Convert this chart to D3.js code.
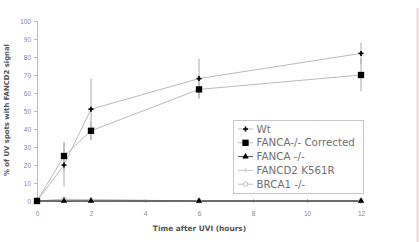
<!DOCTYPE html>
<meta charset="utf-8">
<body style="margin:0;background:#fff">
<script src="https://d3js.org/d3.v7.min.js"></script>
<div id="chart"></div>
<script>

// time points (hours after UVI)
var hours = [0, 1, 2, 6, 12];

var wt = [0, 20, 51, 68, 82];
var wtErr = [0, 12, 17, 11, 6];
var corrected = [0, 25, 39, 62, 70];
var correctedErr = [0, 8, 5, 5, 9];
var fanca = [0, 0, 0, 0, 0];
var fancd2 = [0, 0.8, 0.8, 0, 0];
var brca1 = [0, 1, 0.6, 0, 0];

var xTicks = [0, 2, 4, 6, 8, 10, 12];
var yTicks = [0, 10, 20, 30, 40, 50, 60, 70, 80, 90, 100];

var seriesNames = ["Wt", "FANCA-/- Corrected", "FANCA -/-", "FANCD2 K561R", "BRCA1 -/-"];

var width = 420, height = 242;
var svg = d3.select("#chart").append("svg")
    .attr("width", width)
    .attr("height", height)
    .style("font-family", "DejaVu Sans, sans-serif");

var x = d3.scaleLinear().domain([0, 12]).range([37, 361]);
var y = d3.scaleLinear().domain([0, 100]).range([201, 21]);

// pink rule at right edge
svg.append("line")
    .attr("x1", 417.5).attr("x2", 417.5)
    .attr("y1", 8).attr("y2", height)
    .style("stroke", "#f2d2d6").style("stroke-width", 2);

// Y axis
var yAxis = svg.append("g")
    .attr("transform", "translate(" + x(0) + ",0)")
    .call(d3.axisLeft(y).tickValues(yTicks).tickSize(3).tickPadding(3));
yAxis.select(".domain").style("stroke", "#bdbdbd");
yAxis.selectAll(".tick line").style("stroke", "#bdbdbd");
yAxis.selectAll("text").style("font-size", "6.5px").style("fill", "#8a8a8a");

// X axis
var xAxis = svg.append("g")
    .attr("transform", "translate(0," + y(0) + ")")
    .call(d3.axisBottom(x).tickValues(xTicks).tickSize(3).tickPadding(7));
xAxis.select(".domain").style("stroke", "#bdbdbd");
xAxis.selectAll(".tick line").style("stroke", "#bdbdbd").attr("y1", -2).attr("y2", 2);
xAxis.selectAll("text").style("font-size", "6.5px").style("fill", "#8a8a8a");

// axis titles
svg.append("text")
    .attr("x", 199.5).attr("y", 231)
    .attr("text-anchor", "middle")
    .style("font-size", "7.4px").style("font-weight", "bold").style("fill", "#555")
    .text("Time after UVI (hours)");

svg.append("text")
    .attr("transform", "translate(9,110) rotate(-90)")
    .attr("text-anchor", "middle")
    .style("font-size", "6.9px").style("font-weight", "bold").style("fill", "#555")
    .text("% of UV spots with FANCD2 signal");

var line = d3.line()
    .x(function(d, i) { return x(hours[i]); })
    .y(function(d) { return y(d); });

var series = [
  {name: seriesNames[0], values: wt, err: wtErr, line: "#bcbcbc", sym: d3.symbolCross, size: 14, fill: "#000", stroke: "none"},
  {name: seriesNames[1], values: corrected, err: correctedErr, line: "#bcbcbc", sym: d3.symbolSquare, size: 40, fill: "#000", stroke: "none"},
  {name: seriesNames[2], values: fanca, err: null, line: "#4d4d4d", sym: d3.symbolTriangle, size: 18, fill: "#000", stroke: "none"},
  {name: seriesNames[3], values: fancd2, err: null, line: "#c4c4c4", sym: d3.symbolCross, size: 10, fill: "#cfcfcf", stroke: "none"},
  {name: seriesNames[4], values: brca1, err: null, line: "#c4c4c4", sym: d3.symbolCircle, size: 16, fill: "#fff", stroke: "#bdbdbd"}
];

// draw flat series first so the dark line shows
[3, 4, 2, 1, 0].forEach(function(k) {
  var s = series[k];
  svg.append("path")
    .datum(s.values)
    .attr("d", line)
    .style("fill", "none")
    .style("stroke", s.line)
    .style("stroke-width", k == 2 ? 1.5 : 1);
});

// error bars
series.forEach(function(s) {
  if (!s.err) return;
  s.values.forEach(function(v, i) {
    if (!s.err[i]) return;
    svg.append("line")
      .attr("x1", x(hours[i])).attr("x2", x(hours[i]))
      .attr("y1", y(v - s.err[i])).attr("y2", y(v + s.err[i]))
      .style("stroke", "#aaa").style("stroke-width", 1);
  });
});

// markers
[3, 4, 2, 1, 0].forEach(function(k) {
  var s = series[k];
  svg.selectAll(".m" + k)
    .data(s.values)
    .enter().append("path")
    .attr("class", "m" + k)
    .attr("transform", function(d, i) { return "translate(" + x(hours[i]) + "," + y(d) + ")"; })
    .attr("d", d3.symbol().type(s.sym).size(s.size))
    .style("fill", s.fill)
    .style("stroke", s.stroke);
});

// legend
var legendX = 233, legendY = 120;
svg.append("rect")
    .attr("x", legendX + 0.5).attr("y", legendY + 0.5)
    .attr("width", 130).attr("height", 73)
    .style("fill", "#fff").style("stroke", "#c8c8c8");

var legend = svg.selectAll(".legend")
    .data(series)
    .enter().append("g")
    .attr("class", "legend")
    .attr("transform", function(d, i) { return "translate(" + legendX + "," + (legendY + 9 + i * 13.8) + ")"; });

legend.append("line")
    .attr("x1", 5).attr("x2", 20)
    .style("stroke", function(d) { return d.line; })
    .style("stroke-width", 1);

legend.append("path")
    .attr("transform", "translate(12.5,0)")
    .attr("d", function(d) { return d3.symbol().type(d.sym).size(d.size)(); })
    .style("fill", function(d) { return d.fill; })
    .style("stroke", function(d) { return d.stroke; });

legend.append("text")
    .attr("x", 23.5).attr("y", 3.6)
    .style("font-size", "10.3px").style("fill", "#707070")
    .text(function(d) { return d.name; });

</script>
</body>
